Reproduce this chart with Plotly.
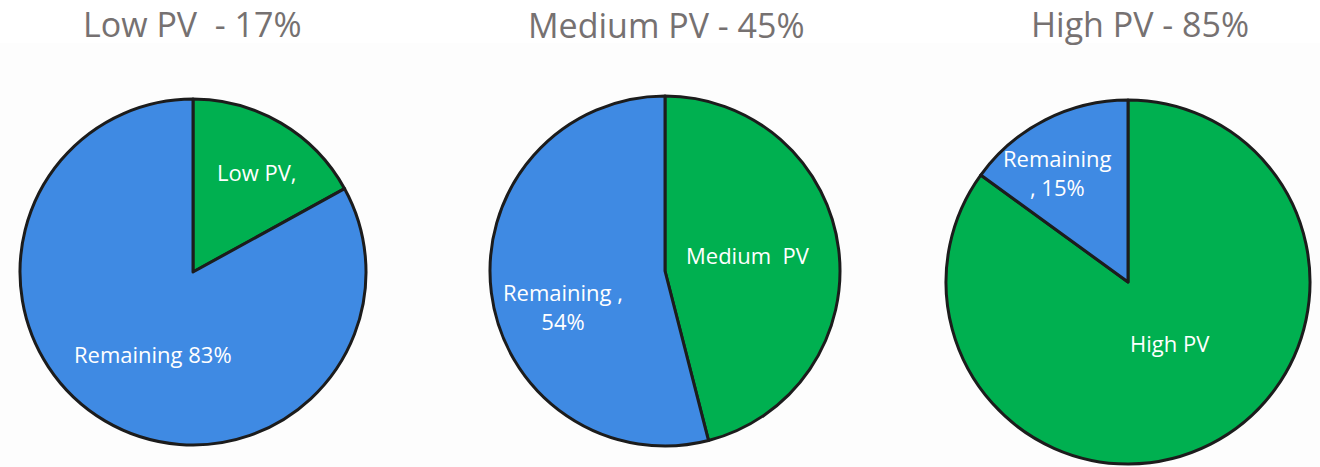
import plotly.graph_objects as go

# data
titles = ["Low PV  - 17%", "Medium PV - 45%", "High PV - 85%"]
labels = [["Low PV", "Remaining"], ["Medium PV", "Remaining"], ["High PV", "Remaining"]]
values = [[17, 83], [46, 54], [85, 15]]
slice_text = [["Low PV,", "Remaining 83%"],
              ["Medium  PV", "Remaining ,<br>54%"],
              ["High PV", "Remaining<br>, 15%"]]

W, H = 1320, 467
green = "#00B050"
blue = "#3F8AE3"

# pie centre (px) and radius (px)
centres = [(193, 272, 173), (665, 271, 175), (1128, 282, 182)]
# label anchor points (px)
label_pos = [[(257, 172), (153, 354)],
             [(748, 255), (563, 306)],
             [(1170, 343), (1057, 172)]]
title_pos = [(192, 24), (667, 25), (1140, 24)]

fig = go.Figure()
for i in range(3):
    cx, cy, r = centres[i]
    fig.add_trace(go.Pie(
        labels=labels[i],
        values=values[i],
        sort=False,
        direction="clockwise",
        rotation=0,
        textinfo="none",
        hoverinfo="label+value",
        marker=dict(colors=[green, blue], line=dict(color="#1c1c1c", width=3)),
        domain=dict(x=[(cx - r) / W, (cx + r) / W],
                    y=[(H - cy - r) / H, (H - cy + r) / H]),
        showlegend=False,
    ))
    tx, ty = title_pos[i]
    fig.add_annotation(text=titles[i], x=tx / W, y=1 - ty / H, xref="paper", yref="paper",
                       xanchor="center", yanchor="middle", showarrow=False,
                       font=dict(size=34, color="#767171", family="Open Sans"))
    for j in range(2):
        lx, ly = label_pos[i][j]
        fig.add_annotation(text=slice_text[i][j], x=lx / W, y=1 - ly / H, xref="paper", yref="paper",
                           xanchor="center", yanchor="middle", showarrow=False,
                           font=dict(size=22, color="white", family="Open Sans"))

fig.add_shape(type="rect", xref="paper", yref="paper", x0=0, x1=1, y0=0, y1=1 - 43 / H,
              fillcolor="#FDFDFD", line_width=0, layer="below")

fig.update_layout(
    width=W, height=H,
    margin=dict(l=0, r=0, t=0, b=0),
    paper_bgcolor="white",
    plot_bgcolor="white",
)

fig.write_html("out.html", config={"displayModeBar": False},
               post_script="document.body.style.margin='0';")
